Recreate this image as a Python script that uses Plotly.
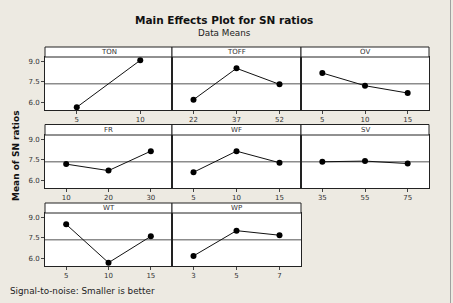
import plotly.graph_objects as go

W, H = 453, 303

factors = ["TON", "TOFF", "OV", "FR", "WF", "SV", "WT", "WP"]
levels = [
    ["5", "10"],
    ["22", "37", "52"],
    ["5", "10", "15"],
    ["10", "20", "30"],
    ["5", "10", "15"],
    ["35", "55", "75"],
    ["5", "10", "15"],
    ["3", "5", "7"],
]
means = [
    [5.67, 9.07],
    [6.22, 8.49, 7.33],
    [8.15, 7.23, 6.70],
    [7.20, 6.73, 8.14],
    [6.61, 8.14, 7.30],
    [7.37, 7.42, 7.24],
    [8.49, 5.71, 7.62],
    [6.20, 8.03, 7.70],
]
grand_mean = 7.37
y_ticks = [6.0, 7.5, 9.0]
y_tick_text = ["6.0", "7.5", "9.0"]

BG = "#EDEAE2"
FONT = "DejaVu Sans"

cols_px = [(45, 172), (172, 301), (301, 429)]
rows_px = [(57, 110), (135, 188), (213, 266)]
hdr_px = [(47, 57), (124.5, 135), (203, 213)]

def px_x(v):
    return v / W

def px_y(v):
    return 1 - v / H

fig = go.Figure()
shapes = []
annotations = []
layout_axes = {}

for i, (name, lv, mv) in enumerate(zip(factors, levels, means)):
    r, c = divmod(i, 3)
    k = "" if i == 0 else str(i + 1)
    xa, ya = "xaxis" + k, "yaxis" + k
    x0, x1 = cols_px[c]
    y0, y1 = rows_px[r]
    fig.add_trace(go.Scatter(
        x=lv, y=mv, mode="lines+markers",
        line=dict(color="#111", width=1),
        marker=dict(color="#000", size=6),
        xaxis="x" + k, yaxis="y" + k, showlegend=False,
        cliponaxis=False,
    ))
    layout_axes[xa] = dict(
        domain=[px_x(x0), px_x(x1)], anchor="y" + k,
        type="category", range=[-0.5, len(lv) - 0.5],
        showgrid=False, zeroline=False,
        showline=True, linecolor="#222", linewidth=1, mirror=True,
        ticks="outside", ticklen=3, tickcolor="#444", tickwidth=1,
        tickfont=dict(family=FONT, size=7, color="#333"),
        fixedrange=True,
    )
    layout_axes[ya] = dict(
        domain=[px_y(y1), px_y(y0)], anchor="x" + k,
        range=[5.47, 9.31], showgrid=False, zeroline=False,
        showline=True, linecolor="#222", linewidth=1, mirror=True,
        tickvals=y_ticks, ticktext=y_tick_text,
        ticks="outside" if c == 0 else "", ticklen=3, tickcolor="#444",
        showticklabels=(c == 0),
        tickfont=dict(family=FONT, size=7, color="#333"),
        fixedrange=True,
    )
    shapes.append(dict(type="rect", xref="paper", yref="paper",
                       x0=px_x(x0), x1=px_x(x1), y0=px_y(y1), y1=px_y(y0),
                       fillcolor="white", line=dict(width=0), layer="below"))
    shapes.append(dict(type="line", xref="x" + k + " domain", yref="y" + k,
                       x0=0, x1=1, y0=grand_mean, y1=grand_mean,
                       line=dict(color="#8c8c8c", width=1.5), layer="below"))
    h0, h1 = hdr_px[r]
    shapes.append(dict(type="rect", xref="paper", yref="paper",
                       x0=px_x(x0), x1=px_x(x1), y0=px_y(h1), y1=px_y(h0),
                       fillcolor="white", line=dict(color="#222", width=1)))
    annotations.append(dict(text=name, xref="paper", yref="paper",
                            x=px_x((x0 + x1) / 2), y=px_y((h0 + h1) / 2),
                            showarrow=False, xanchor="center", yanchor="middle",
                            font=dict(family=FONT, size=7, color="#333")))

annotations += [
    dict(text="<b>Main Effects Plot for SN ratios</b>", xref="paper", yref="paper",
         x=px_x(224), y=px_y(20), showarrow=False, xanchor="center", yanchor="middle",
         font=dict(family=FONT, size=10.5, color="#111")),
    dict(text="Data Means", xref="paper", yref="paper",
         x=px_x(224), y=px_y(33), showarrow=False, xanchor="center", yanchor="middle",
         font=dict(family=FONT, size=8.8, color="#222")),
    dict(text="<b>Mean of SN ratios</b>", xref="paper", yref="paper",
         x=px_x(16), y=px_y(156), showarrow=False, textangle=-90,
         xanchor="center", yanchor="middle",
         font=dict(family=FONT, size=9, color="#111")),
    dict(text="Signal-to-noise: Smaller is better", xref="paper", yref="paper",
         x=px_x(8), y=px_y(291), showarrow=False, xanchor="left", yanchor="middle",
         font=dict(family=FONT, size=8.8, color="#222")),
]

shapes.append(dict(type="line", xref="paper", yref="paper",
                   x0=px_x(450.5), x1=px_x(450.5), y0=0, y1=1,
                   line=dict(color="#a0a0a0", width=1)))

fig.update_layout(
    width=W, height=H, margin=dict(l=0, r=0, t=0, b=0),
    paper_bgcolor=BG, plot_bgcolor="rgba(0,0,0,0)",
    shapes=shapes, annotations=annotations, showlegend=False,
    **layout_axes,
)

fig.write_html("out.html", config={"displayModeBar": False})
